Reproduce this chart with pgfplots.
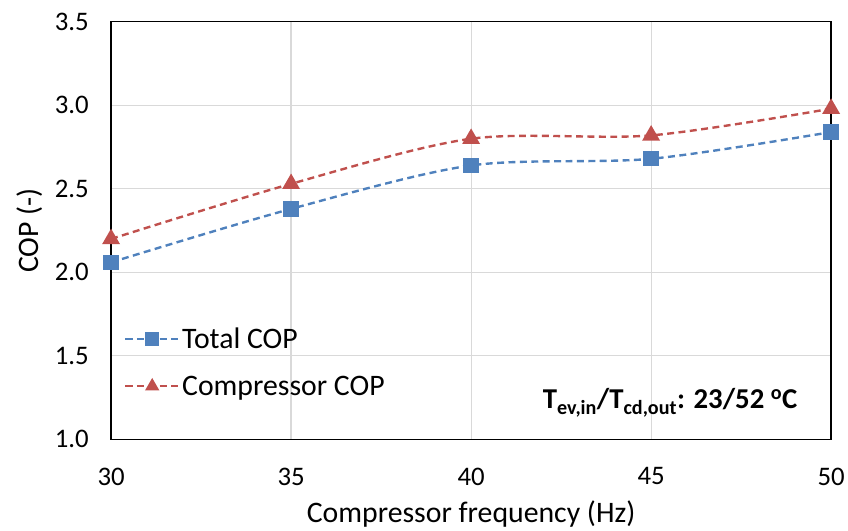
\documentclass[border=0pt]{standalone}
\usepackage{fontspec}
\setmainfont{Carlito}
\usepackage{pgfplots}
\pgfplotsset{compat=1.18}
\definecolor{cblue}{HTML}{4F81BD}
\definecolor{cred}{HTML}{C0504D}
\definecolor{cgrid}{HTML}{D9D9D9}
\begin{document}
\begin{tikzpicture}
\begin{axis}[
  scale only axis,
  width=726pt, height=421pt,
  xmin=30, xmax=50, ymin=1.0, ymax=3.5,
  xtick={30,35,40,45,50},
  ytick={1.0,1.5,2.0,2.5,3.0,3.5},
  yticklabel style={/pgf/number format/fixed,/pgf/number format/fixed zerofill,/pgf/number format/precision=1},
  /pgf/number format/assume math mode=true,
  major tick length=0pt,
  grid=major,
  major grid style={cgrid, line width=1.2pt},
  axis line style={black, line width=1.3pt},
  tick label style={font=\fontsize{27}{30}\selectfont},
  xticklabel style={yshift=-25pt},
  yticklabel style={xshift=-19pt},
  every axis x label/.style={at={(axis description cs:0.5,-0.178)}, anchor=center},
  every axis y label/.style={at={(axis description cs:-0.113,0.5)}, anchor=center, rotate=90},
  label style={font=\fontsize{30}{36}\selectfont},
  xlabel={Compressor frequency (Hz)},
  ylabel={COP (-)},
  legend style={draw=none, fill=none, at={(axis description cs:0.018,0.272)}, anchor=north west,
    font=\fontsize{30}{36}\selectfont, row sep=22pt, inner sep=0pt,
    /tikz/every even column/.append style={column sep=16pt}},
  legend cell align=left,
  legend image code/.code={\draw[mark repeat=2,mark phase=2, mark size=6pt] plot coordinates {(0pt,0pt) (27pt,0pt) (54pt,0pt)};},
]
\addplot[cblue, line width=2.4pt, dash pattern=on 7pt off 4.5pt, smooth, tension=0.5,
  mark=square*, mark size=6.5pt, mark options={solid, fill=cblue, draw=cblue}]
  coordinates {(30,2.06) (35,2.38) (40,2.64) (45,2.68) (50,2.84)};
\addlegendentry{Total COP}
\addplot[cred, line width=2.4pt, dash pattern=on 7pt off 4.5pt, smooth, tension=0.5,
  mark=triangle*, mark size=8pt, mark options={solid, fill=cred, draw=cred}]
  coordinates {(30,2.20) (35,2.53) (40,2.80) (45,2.82) (50,2.98)};
\addlegendentry{Compressor COP}
\node[anchor=base east, font=\bfseries\fontsize{29}{33}\selectfont] at (rel axis cs:0.958,0.074)
  {T\textsubscript{ev,in}/T\textsubscript{cd,out}: 23/52 \textsuperscript{o}C};
\end{axis}
\path ([xshift=-112pt,yshift=-87pt]current axis.south west) rectangle ([xshift=10pt,yshift=22pt]current axis.north east);
\end{tikzpicture}
\end{document}
